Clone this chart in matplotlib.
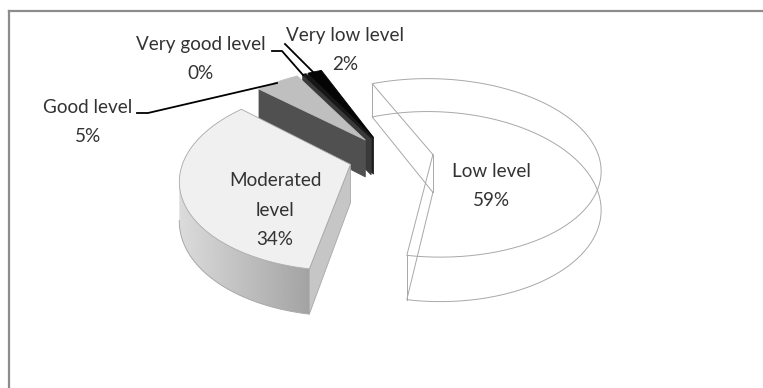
import numpy as np
import matplotlib
matplotlib.use('Agg')
import matplotlib.pyplot as plt
from matplotlib.patches import Polygon

plt.rcParams['font.family'] = ['Lato', 'DejaVu Sans']

labels = ['Low level', 'Moderated\nlevel', 'Good level', 'Very good level', 'Very low level']
values = [59, 34, 5, 0.4, 1.6]
tops = ['white', '#f0f0f0', '#bfbfbf', '#161616', '#050505']
walls = ['white', '#c6c6c6', '#505050', '#3a3a3a', '#1c1c1c']

# pie geometry in pixels
cx, cy = 391, 157
rx, ry = 166, 88
persp = 0.15
explode = 0.255
depth = 38
start = -22.5
edge = '#a8a8a8'

fig = plt.figure(figsize=(7.63, 3.88), dpi=100)
ax = fig.add_axes([0, 0, 1, 1])


def project(u, v, low=False):
    s = 1 / (1 + persp * v)
    x = cx + u * rx * s
    y = cy - v * ry * s
    if low:
        y = y + depth * s
    return x, y


def outline(a0, a1, off, low=False, n=80):
    t = np.radians(np.linspace(a0, a1, n))
    return np.array([project(off[0] + np.sin(t[i]), off[1] + np.cos(t[i]), low) for i in range(n)])


shares = np.array(values) / sum(values) * 360
ends = start + np.cumsum(shares)
starts = ends - shares
offs = []
for a0, a1 in zip(starts, ends):
    mid = np.radians((a0 + a1) / 2)
    offs.append((explode * np.sin(mid), explode * np.cos(mid)))

# far slices first, the low level slice is only a wire outline
for i in [4, 3, 2, 1]:
    a0, a1, off = starts[i], ends[i], offs[i]
    apex_top = project(off[0], off[1])
    apex_low = project(off[0], off[1], True)
    arc_top = outline(a0, a1, off)
    arc_low = outline(a0, a1, off, True)
    # front rim with a grey ramp, from the near corner out to the left
    if i == 1:
        k = np.argmin(arc_top[:, 0]) + 1
        rim = np.vstack([arc_top[:k], arc_low[:k][::-1]])
        x0, x1 = rim[:, 0].min(), rim[:, 0].max()
        y0, y1 = rim[:, 1].min(), rim[:, 1].max()
        ramp = np.linspace(0.86, 0.64, 200).reshape(1, -1)
        im = ax.imshow(ramp, cmap='gray', vmin=0, vmax=1, extent=(x0, x1, y1, y0),
                       aspect='auto', zorder=1)
        im.set_clip_path(Polygon(rim, transform=ax.transData))
        ax.plot(arc_low[:k, 0], arc_low[:k, 1], color=edge, lw=0.7, zorder=1.1)
    # cut side facing the viewer
    side = [apex_top, arc_top[0], arc_low[0], apex_low]
    ax.add_patch(Polygon(side, fc=walls[i], ec=edge if i == 1 else walls[i], lw=0.6, zorder=1.2))
    ax.add_patch(Polygon([apex_top] + list(arc_top), fc=tops[i], ec=edge if i == 1 else tops[i],
                         lw=0.6, zorder=1.3))

# low level slice
a0, a1, off = starts[0], ends[0], offs[0]
apex_top = project(off[0], off[1])
apex_low = project(off[0], off[1], True)
arc_top = outline(a0, a1, off)
arc_low = outline(a0, a1, off, True)
ax.plot(*zip(apex_top, *arc_top, apex_top), color=edge, lw=0.7, zorder=2)
ax.plot(*zip(apex_low, *arc_low, apex_low), color=edge, lw=0.7, zorder=2)
for p, q in [(apex_top, apex_low), (arc_top[0], arc_low[0]), (arc_top[-1], arc_low[-1])]:
    ax.plot([p[0], q[0]], [p[1], q[1]], color=edge, lw=0.7, zorder=2)

# labels
fs = 13.6
tc = '#333333'
pos = [(491, 186), (275, 210), (88, 122), (201, 59), (345, 50)]
for name, val, (x, y) in zip(labels, values, pos):
    ax.text(x, y, f'{name}\n{val:.0f}%', ha='center', va='center', fontsize=fs,
            color=tc, linespacing=1.9, zorder=3)

# leader lines
ax.plot([137, 148, 277], [113, 113, 83], color='black', lw=1.3, zorder=3)
ax.plot([272, 282, 303], [51, 51, 75], color='black', lw=1.3, zorder=3)
ax.plot([285, 313], [44, 72], color='black', lw=1.3, zorder=3)

# chart frame, only the top and left sides show
ax.plot([9, 9], [388, 11], color='#8c8c8c', lw=1.6, zorder=3)
ax.plot([9, 763], [11, 11], color='#8c8c8c', lw=1.6, zorder=3)

ax.set_xlim(0, 763)
ax.set_ylim(388, 0)
ax.axis('off')

fig.savefig('out.png', dpi=100)
